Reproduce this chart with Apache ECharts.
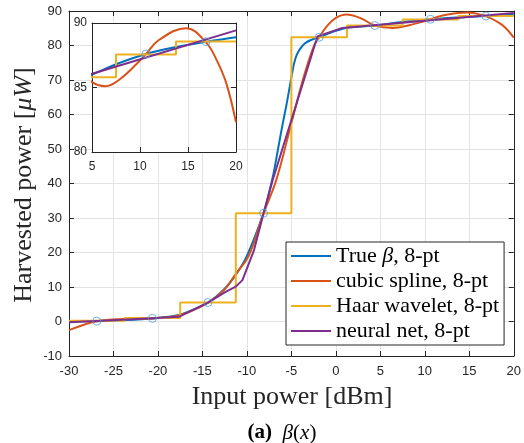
<!DOCTYPE html>
<html><head><meta charset="utf-8">
<script src="https://cdn.jsdelivr.net/npm/echarts@6/dist/echarts.min.js"></script>
<style>html,body{margin:0;padding:0;background:#fff}#c{width:524px;height:443px}</style>
</head><body><div id="c"></div>
<script>
// ---- data ----
const sampleX = [-26.875, -20.625, -14.375, -8.125, -1.875, 4.375, 10.625, 16.875];
const sampleY = [0.1, 0.9, 5.5, 31.4, 82.4, 85.8, 87.6, 88.55];

const trueX = [-30, -26.875, -23.75, -20.625, -17.5, -14.375, -12.5, -11.25, -10, -8.125, -7.5, -7, -6.5, -6, -5.5, -5, -4.7, -4.4, -4, -3.5, -2.8, -1.875, -0.5, 1, 2.5, 4.375, 7.5, 10.625, 13.5, 16.875, 20];
const trueY = [0, 0.1, 0.4, 0.9, 2.0, 5.5, 9.5, 13.5, 19, 31.4, 37.5, 43, 50, 57, 63.5, 70.8, 74.8, 77.3, 79.1, 80.6, 81.6, 82.4, 83.8, 85.0, 85.4, 85.8, 86.8, 87.6, 88.1, 88.55, 88.9];

const splineX = [-30, -28.4, -26.875, -24, -20.625, -17.5, -14.375, -12.5, -11.25, -9.8, -8.125, -6.7, -5, -3.6, -2.45, -1.875, -1, 0, 1.2, 2.8, 4.375, 6.4, 8, 10, 10.625, 12, 14.8, 16.875, 18, 19, 20];
const splineY = [-2.5, -1.0, 0.1, 0.7, 0.9, 1.9, 5.5, 9.3, 13.8, 19, 31.4, 41, 57.5, 71, 80, 82.4, 85.6, 88, 89, 87.9, 85.8, 85.1, 85.7, 87.1, 87.6, 88.7, 89.6, 88.5, 87.1, 85.3, 82.3];

const haarEdges = [-30, -23.75, -17.5, -11.25, -5, 1.25, 7.5, 13.75, 20];
const haarLevels = [0.2, 1.0, 5.5, 31.4, 82.4, 85.8, 87.55, 88.56];

const nnX = [-30, -24, -17.6, -14.375, -12.4, -11.25, -10.5, -9.2, -8.125, -7.1, -2.07, 0.73, 20];
const nnY = [-0.2, 0.5, 1.4, 5.5, 8.6, 10.1, 12.0, 20.7, 31.4, 41, 82.6, 85.1, 89.43];

const seriesNames = ['True β, 8-pt', 'cubic spline, 8-pt', 'Haar wavelet, 8-pt', 'neural net, 8-pt'];
const colors = ['#0072BD', '#D95319', '#EDB120', '#7E2F8E'];

// ---- helpers ----
const pairs = (xs, ys) => xs.map((x, i) => [x, ys[i]]);
const haarData = haarEdges.map((x, i) => [x, haarLevels[Math.min(i, haarLevels.length - 1)]]);
const axisColor = '#262626';
const gridColor = '#e3e3e3';

function xAx(grid, pos, min, max, interval, showLabel, fs, zl) {
  return {
    type: 'value', gridIndex: grid, position: pos, min, max, interval, zlevel: zl,
    axisLine: { show: true, onZero: false, lineStyle: { color: axisColor, width: 1 } },
    axisTick: { show: true, inside: true, length: 5, lineStyle: { color: axisColor } },
    axisLabel: { show: showLabel, color: axisColor, fontFamily: 'Liberation Sans', fontSize: fs, margin: 9, showMinLabel: true, showMaxLabel: true },
    splitLine: { show: showLabel, lineStyle: { color: gridColor, width: 1 } }
  };
}
function yAx(grid, pos, min, max, interval, showLabel, fs, zl, margin) {
  return {
    type: 'value', gridIndex: grid, position: pos, min, max, interval, zlevel: zl,
    axisLine: { show: true, onZero: false, lineStyle: { color: axisColor, width: 1 } },
    axisTick: { show: true, inside: true, length: 5, lineStyle: { color: axisColor } },
    axisLabel: { show: showLabel, color: axisColor, fontFamily: 'Liberation Sans', fontSize: fs, margin: margin, showMinLabel: true, showMaxLabel: true },
    splitLine: { show: showLabel, lineStyle: { color: gridColor, width: 1 } }
  };
}

function lineSeries(ax, zl) {
  return [
    { name: seriesNames[0], type: 'line', xAxisIndex: ax, yAxisIndex: ax, zlevel: zl, data: pairs(trueX, trueY), showSymbol: false, symbol: 'none', smooth: 0.25, clip: true, lineStyle: { color: colors[0], width: 2 }, itemStyle: { color: colors[0] }, z: 2 },
    { name: seriesNames[1], type: 'line', xAxisIndex: ax, yAxisIndex: ax, zlevel: zl, data: pairs(splineX, splineY), showSymbol: false, symbol: 'none', smooth: 0.4, clip: true, lineStyle: { color: colors[1], width: 2 }, itemStyle: { color: colors[1] }, z: 3 },
    { name: seriesNames[2], type: 'line', xAxisIndex: ax, yAxisIndex: ax, zlevel: zl, data: haarData, step: 'end', showSymbol: false, symbol: 'none', clip: true, lineStyle: { color: colors[2], width: 2 }, itemStyle: { color: colors[2] }, z: 4 },
    { name: seriesNames[3], type: 'line', xAxisIndex: ax, yAxisIndex: ax, zlevel: zl, data: pairs(nnX, nnY), showSymbol: false, symbol: 'none', clip: true, lineStyle: { color: colors[3], width: 2 }, itemStyle: { color: colors[3] }, z: 5 },
    { name: 'samples', type: 'scatter', xAxisIndex: ax, yAxisIndex: ax, zlevel: zl, data: pairs(sampleX, sampleY), symbol: 'circle', symbolSize: 8, clip: true, itemStyle: { color: 'rgba(0,0,0,0)', borderColor: '#4f9fdc', borderWidth: 1 }, z: 6 }
  ];
}

const chart = echarts.init(document.getElementById('c'), null, { renderer: 'canvas' });
chart.setOption({
  animation: false,
  backgroundColor: '#fff',
  grid: [
    { left: 69, top: 11, width: 447, height: 345, show: false },
    { left: 92, top: 23, width: 144, height: 129, show: true, backgroundColor: '#fff', borderWidth: 0, zlevel: 1 }
  ],
  xAxis: [
    xAx(0, 'bottom', -30, 20, 5, true, 13, 0),
    xAx(0, 'top', -30, 20, 5, false, 13, 0),
    xAx(1, 'bottom', 5, 20, 5, true, 12, 1),
    xAx(1, 'top', 5, 20, 5, false, 12, 1)
  ],
  yAxis: [
    yAx(0, 'left', -10, 90, 10, true, 13, 0, 7),
    yAx(0, 'right', -10, 90, 10, false, 13, 0, 7),
    yAx(1, 'left', 80, 90, 5, true, 12, 1, 5),
    yAx(1, 'right', 80, 90, 5, false, 12, 1, 5)
  ],
  legend: {
    data: seriesNames.map((n, i) => ({ name: n, icon: 'rect', itemStyle: { color: colors[i], borderWidth: 0 } })),
    orient: 'vertical', left: 286, top: 242,
    itemWidth: 40, itemHeight: 2, itemGap: 3, padding: [3, 5, 3, 5],
    backgroundColor: '#fff', borderColor: axisColor, borderWidth: 1, borderRadius: 0,
    textStyle: { fontFamily: 'Liberation Serif', fontSize: 22, color: '#000', lineHeight: 22,
      rich: { n: { fontFamily: 'Liberation Serif', fontSize: 22, color: '#000', lineHeight: 22 }, i: { fontFamily: 'Liberation Serif', fontStyle: 'italic', fontSize: 22, color: '#000', lineHeight: 22 } } },
    formatter: function (name) {
      if (name === seriesNames[0]) return '{n|True }{i|β}{n|, 8-pt}';
      return '{n|' + name + '}';
    },
    selectedMode: false
  },
  graphic: [
    { type: 'text', x: 24, y: 185, rotation: Math.PI / 2,
      style: { text: '{n|Harvested power [}{i|μW}{n|]}', align: 'center', verticalAlign: 'middle',
        rich: { n: { fontFamily: 'Liberation Serif', fontSize: 26, fill: '#262626' }, i: { fontFamily: 'Liberation Serif', fontStyle: 'italic', fontSize: 26, fill: '#262626' } } } },
    { type: 'text', x: 292, y: 397,
      style: { text: 'Input power [dBm]', align: 'center', verticalAlign: 'middle', fontFamily: 'Liberation Serif', fontSize: 26, fill: '#262626' } },
    { type: 'text', x: 282, y: 433,
      style: { text: '{b|(a)}{n|  }{i|β}{n|(}{i|x}{n|)}', align: 'center', verticalAlign: 'middle',
        rich: { b: { fontFamily: 'Liberation Serif', fontWeight: 'bold', fontSize: 21, fill: '#000' }, n: { fontFamily: 'Liberation Serif', fontSize: 21, fill: '#000' }, i: { fontFamily: 'Liberation Serif', fontStyle: 'italic', fontSize: 21, fill: '#000' } } } }
  ],
  series: [].concat(lineSeries(0, 0), lineSeries(2, 1))
});
</script></body></html>
